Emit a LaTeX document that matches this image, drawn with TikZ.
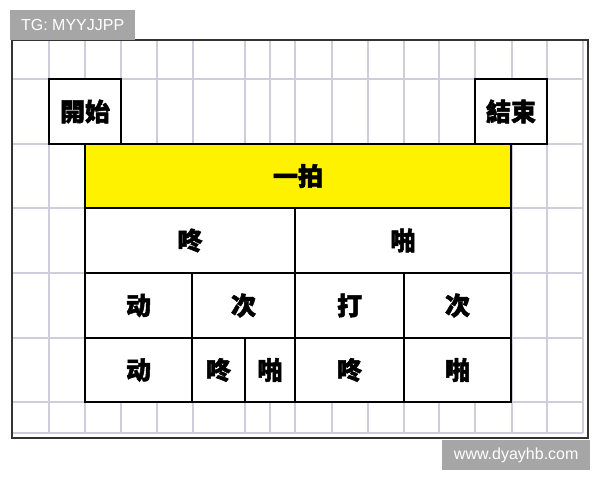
\documentclass[tikz,border=0pt]{standalone}
\usepackage{fontspec}
\setmainfont{Liberation Sans}
\newfontfamily\cjk[BoldFeatures={FakeBold=2}]{Noto Sans CJK SC}
\definecolor{gridgray}{HTML}{CDCDDC}
\definecolor{taggray}{HTML}{A6A6A6}

\begin{document}
\begin{tikzpicture}[x=1pt,y=-1pt,
  gridline/.style={gridgray,line width=1.2pt},
  cell/.style={draw=black,line width=1.8pt,anchor=north west,inner sep=0pt,outer sep=0pt,
    font=\cjk\bfseries\fontsize{25}{25}\selectfont},
  tag/.style={fill=taggray,text=white,anchor=north west,inner sep=0pt,
    font=\fontsize{16}{16}\selectfont}]
  \useasboundingbox[fill=white] (0,0) rectangle (600,480);

  % grid of the sheet
  \foreach \y in {79,144,208,273,338,402,433}
    \draw[gridline] (12,\y) -- (583,\y);
  \foreach \x in {49,85,121,157,193,245,270,295,332,368,404,439,475,512,547,583}
    \draw[gridline] (\x,40) -- (\x,433);
  \draw[black!80,line width=1.2pt] (12,40) rectangle (588,438);

  \node[tag,minimum width=125,minimum height=30] (tg) at (10,10) {TG: MYYJJPP};
  \node[tag,minimum width=148,minimum height=30] (site) at (442,440) {www.dyayhb.com};

  \node[cell,fill=white,minimum width=72,minimum height=65] (start) at (49,79) {開始};
  \node[cell,fill=white,minimum width=72,minimum height=65] (end) at (475,79) {結束};

  \node[cell,fill=yellow,minimum width=426,minimum height=64] (beat) at (85,144) {一拍};

  \node[cell,fill=white,minimum width=210,minimum height=65] (dong) at (85,208) {咚};
  \node[cell,fill=white,minimum width=216,minimum height=65] (pa) at (295,208) {啪};

  \node[cell,fill=white,minimum width=107,minimum height=65] (dongA) at (85,273) {动};
  \node[cell,fill=white,minimum width=103,minimum height=65] (ciA) at (192,273) {次};
  \node[cell,fill=white,minimum width=109,minimum height=65] (daA) at (295,273) {打};
  \node[cell,fill=white,minimum width=107,minimum height=65] (ciB) at (404,273) {次};

  \node[cell,fill=white,minimum width=107,minimum height=64] (dongB) at (85,338) {动};
  \node[cell,fill=white,minimum width=53,minimum height=64] (dongC) at (192,338) {咚};
  \node[cell,fill=white,minimum width=50,minimum height=64] (paC) at (245,338) {啪};
  \node[cell,fill=white,minimum width=109,minimum height=64] (dongD) at (295,338) {咚};
  \node[cell,fill=white,minimum width=107,minimum height=64] (paD) at (404,338) {啪};
\end{tikzpicture}
\end{document}
